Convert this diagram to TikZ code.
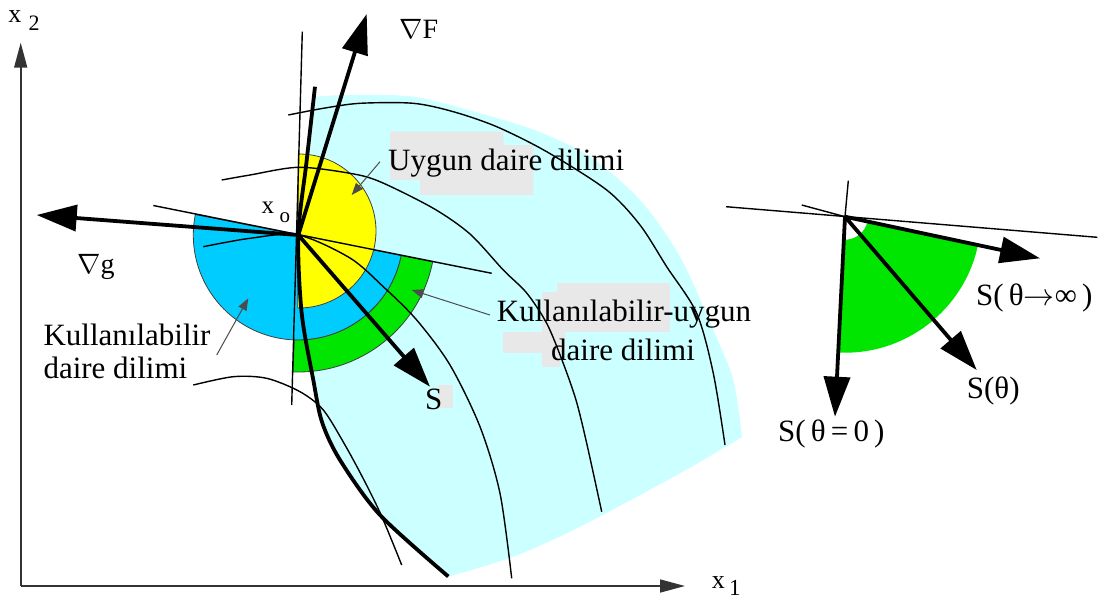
\RequirePackage{fix-cm}
\documentclass[tikz,border=0pt]{standalone}
\usepackage{fontspec}
\setmainfont{Liberation Serif}
\usetikzlibrary{arrows.meta,calc}
\definecolor{cyanbg}{RGB}{204,255,255}
\definecolor{yel}{RGB}{255,255,0}
\definecolor{blu}{RGB}{0,204,255}
\definecolor{grn}{RGB}{0,230,0}
\definecolor{greybox}{RGB}{232,232,232}
\begin{document}
\begin{tikzpicture}[x=1pt,y=-1pt,
  thinline/.style={line width=1.4pt},
  contour/.style={line width=1.4pt},
  heavy/.style={line width=3.8pt},
  bigarrow/.style={heavy,-{Triangle[length=40pt,width=26pt]}},
  axisarrow/.style={line width=1.6pt,black!80,-{Triangle[length=25pt,width=13pt]}},
  notearrow/.style={line width=1pt,black!70,-{Triangle[length=12pt,width=9pt]}},
  lab/.style={font=\fontsize{31}{31}\selectfont,inner sep=0pt,anchor=base west},
  sectorline/.style={draw=black!75,line width=0.8pt}
]
\useasboundingbox (0,0) rectangle (1117,600);
% key points
\coordinate (O) at (298.3,235);
\coordinate (Yc) at (299,231);
\coordinate (P) at (845,216.7);
% cyan feasible region
\fill[cyanbg] plot[smooth] coordinates {(314,97) (306.5,162) (298.3,235) (301.7,313.3) (313.3,380) (322,422) (340,460) (380,515) (447,577)}
  -- plot[smooth] coordinates {(447,577) (513.3,556.7) (580,526.7) (680,473.3) (742,437)}
  -- plot[smooth] coordinates {(742,437) (733.3,380) (713.3,330) (680,256.7) (640,200) (590,156.7) (537,131) (480,113.3) (413.3,96.7) (346.7,95) (314,97)} -- cycle;
% grey patches behind labels
\fill[greybox] (390,131.7) -- (503.3,131.7) -- (503.3,145) -- (533.3,145) -- (533.3,195) -- (420,195) -- (420,180) -- (390,180) -- cycle;
\fill[greybox] (556.7,283.3) rectangle (670,331.7);
\fill[greybox] (541.7,291.7) rectangle (556.7,331.7);
\fill[greybox] (503.3,331.7) rectangle (565,353.3);
\fill[greybox] (541.7,353.3) rectangle (560,366.7);
\fill[greybox] (438.3,385) rectangle (452.7,408.3);
% sectors at x_o
\filldraw[fill=blu,sectorline] (O) -- ($(O)+(11.25:105)$) arc[start angle=11.25,end angle=191.25,radius=105] -- cycle;
\filldraw[fill=grn,sectorline] ($(O)+(11.25:105)$) -- ($(O)+(11.25:137)$) arc[start angle=11.25,end angle=92.2,radius=137] -- ($(O)+(92.2:105)$) arc[start angle=92.2,end angle=11.25,radius=105] -- cycle;
\filldraw[fill=yel,sectorline] (O) -- ($(Yc)+(-90.5:77)$) arc[start angle=-90.5,end angle=91,radius=77] -- cycle;
% right green sector
\fill[grn] ($(P)+(12:23)$) -- ($(P)+(12:136)$) arc[start angle=12,end angle=92.9,radius=136] -- ($(P)+(92.9:23)$) arc[start angle=92.9,end angle=12,radius=23] -- cycle;
% level curves
\draw[contour] plot[smooth] coordinates {(288.3,115) (323.3,108.3) (360,103.3) (413.3,103.3) (453.3,111.7) (496.7,126.7) (546.7,151.7) (606.7,190) (640,225) (666.7,266.7) (696.7,313.3) (713.3,373.3) (725,445)};
\draw[contour] plot[smooth] coordinates {(221.7,180) (250,175) (298.3,167.3) (350,173.3) (380,181.7) (433.3,208.3) (470,234) (503.3,270) (526.7,293) (546.7,323.3) (562,360) (576,400) (586.7,443.3) (601.7,511.7)};
\draw[contour] plot[smooth] coordinates {(203.3,246.7) (250,238.3) (298.3,235) (350,258) (383.3,286.7) (416.7,320) (450,365) (480,426.7) (500,493.3) (511.7,578.3)};
\draw[contour] plot[smooth] coordinates {(193.3,385) (233.3,376.7) (266.7,378.3) (300,391.7) (323.3,410) (345,445) (365,482) (382,517) (401.7,565)};
% thin lines through x_o
\coordinate (vt) at (302.3,31.7);
\coordinate (vb) at (291.7,405);
\coordinate (tl) at (153.3,205.5);
\coordinate (tr) at (491.7,273.3);
\draw[thinline] (vt) -- (vb);
\draw[thinline] (tl) -- (tr);
% constraint boundary (thick)
\draw[heavy] plot[smooth] coordinates {(315,86.7) (306.5,162) (298.3,235) (301.7,313.3) (313.3,380) (322,422) (340,460) (380,515) (448.3,576.5)};
% main arrows
\coordinate (gradF) at (366.7,14);
\coordinate (gradg) at (36.7,215);
\coordinate (Stip) at (430,386.7);
\draw[bigarrow] (O) -- (gradF);
\draw[bigarrow] (O) -- (gradg);
\draw[bigarrow] (O) -- (Stip);
% right figure lines and arrows
\coordinate (rv) at (848.3,180.7);
\coordinate (rl) at (726,206.7);
\coordinate (rr) at (1097.3,237.3);
\coordinate (rs) at (801.7,205);
\coordinate (S0) at (835,416.7);
\coordinate (St) at (976.7,370);
\coordinate (Sinf) at (1040,258.3);
\draw[thinline] (rv) -- (P);
\draw[thinline] (rl) -- (rr);
\draw[thinline] (rs) -- (P);
\draw[bigarrow] (P) -- (S0);
\draw[bigarrow] (P) -- (St);
\draw[bigarrow] (P) -- (Sinf);
% pointer arrows
\coordinate (n1s) at (380,161.7); \coordinate (n1e) at (351.7,195);
\coordinate (n2s) at (490,315);   \coordinate (n2e) at (411.7,290);
\coordinate (n3s) at (216.7,355); \coordinate (n3e) at (248.3,298.3);
\draw[notearrow] (n1s) -- (n1e);
\draw[notearrow] (n2s) -- (n2e);
\draw[notearrow] (n3s) -- (n3e);
% axes
\coordinate (orig) at (20.7,586);
\coordinate (x2tip) at (20.7,42.7);
\coordinate (x1tip) at (685,586);
\draw[axisarrow] (orig) -- (x2tip);
\draw[axisarrow] (orig) -- (x1tip);
% labels
\node[lab,font=\fontsize{26}{26}\selectfont] (x2a) at (8.3,22.7) {x};
\node[lab,font=\fontsize{22}{22}\selectfont] (x2b) at (28.3,30) {2};
\node[lab,font=\fontsize{26}{26}\selectfont] (x1a) at (711.7,588.3) {x};
\node[lab,font=\fontsize{23}{23}\selectfont] (x1b) at (729,595) {1};
\node[lab,font=\fontsize{25}{25}\selectfont] (xoa) at (261.5,213.3) {x};
\node[lab,font=\fontsize{21}{21}\selectfont] (xob) at (279.5,222) {o};
\node[lab,font=\fontsize{28}{28}\selectfont] (lF) at (399,38) {$\nabla$F};
\node[lab,font=\fontsize{28}{28}\selectfont] (lg) at (77,273.3) {$\nabla$g};
\node[lab] (luygun) at (388,170) {Uygun daire dilimi};
\node[lab,anchor=base] (lku1) at (624,321.7) {Kullanılabilir-uygun};
\node[lab,anchor=base] (lku2) at (623,360) {daire dilimi};
\node[lab] (lk1) at (43.3,345) {Kullanılabilir};
\node[lab] (lk2) at (43.3,378.3) {daire dilimi};
\node[lab] (lS) at (425,409) {S};
\node[lab] (lSinf) at (976,305) {S(\,θ$\rightarrow$∞\,)};
\node[lab] (lSt) at (966.7,398) {S(θ)};
\node[lab] (lS0) at (778,441.7) {S(\,θ\,=\,0\,)};
\end{tikzpicture}
\end{document}
